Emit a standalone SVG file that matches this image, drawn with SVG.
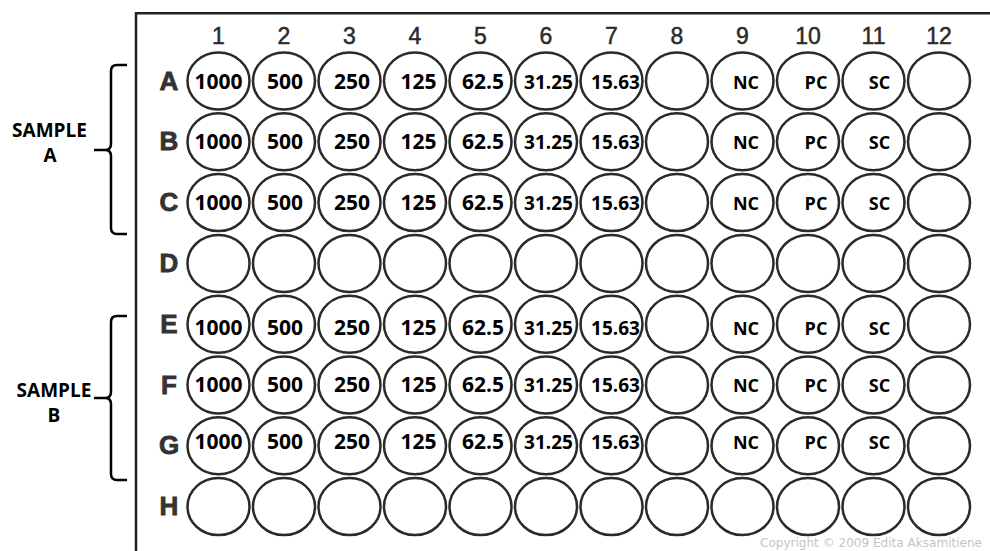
<svg xmlns="http://www.w3.org/2000/svg" xmlns:xlink="http://www.w3.org/1999/xlink" width="990" height="551" viewBox="0 0 990 551">
<style>
.frame{fill:none;stroke:#222;stroke-width:2.5}
.well{fill:#fff;stroke:#2a2a2a;stroke-width:2.5}
.col{font-family:"Liberation Sans",Arial,sans-serif;font-size:23px;fill:#2b2b2b;stroke:#2b2b2b;stroke-width:0.5;text-anchor:middle}
.row{font-family:"Liberation Sans",Arial,sans-serif;font-size:26px;font-weight:bold;fill:#333;stroke:#333;stroke-width:0.8;text-anchor:middle}
.v{font-family:"Open Sans","Noto Sans",sans-serif;font-size:21px;font-weight:bold;fill:#000;text-anchor:middle}
.s{font-family:"Open Sans","Noto Sans",sans-serif;font-size:19px;font-weight:bold;fill:#000;text-anchor:middle}
.c{font-family:"Open Sans","Noto Sans",sans-serif;font-size:18px;font-weight:bold;fill:#000;text-anchor:middle}
.lab{font-family:"Open Sans","Noto Sans",sans-serif;font-size:19px;font-weight:bold;fill:#000;text-anchor:middle}
.br{fill:none;stroke:#000;stroke-width:2.5;stroke-linejoin:round}
.copy{font-family:"DejaVu Sans",Verdana,sans-serif;font-size:12px;fill:#c4c4c4}
</style>
<defs>
<ellipse id="w" class="well" cx="0" cy="0" rx="31" ry="28.5"/>
</defs>
<rect width="990" height="551" fill="#fff"/>
<g id="plate">
<path class="frame" d="M136,551 V13.3 H990"/>
</g>
<g id="column-labels">
<text class="col" x="218.5" y="43.5">1</text>
<text class="col" x="284" y="43.5">2</text>
<text class="col" x="349.5" y="43.5">3</text>
<text class="col" x="415" y="43.5">4</text>
<text class="col" x="480.5" y="43.5">5</text>
<text class="col" x="546" y="43.5">6</text>
<text class="col" x="611.5" y="43.5">7</text>
<text class="col" x="677" y="43.5">8</text>
<text class="col" x="742.5" y="43.5">9</text>
<text class="col" x="808" y="43.5">10</text>
<text class="col" x="873.5" y="43.5">11</text>
<text class="col" x="939" y="43.5">12</text>
</g>
<g id="row-labels">
<text class="row" x="169" y="89.5">A</text>
<text class="row" x="169" y="150.3">B</text>
<text class="row" x="169" y="211.1">C</text>
<text class="row" x="169" y="271.9">D</text>
<text class="row" x="169" y="332.7">E</text>
<text class="row" x="169" y="393.5">F</text>
<text class="row" x="169" y="454.3">G</text>
<text class="row" x="169" y="515.1">H</text>
</g>
<g id="row-A">
<g id="A1"><use href="#w" x="218.5" y="81"/><text class="v" x="218.5" y="89">1000</text></g>
<g id="A2"><use href="#w" x="284" y="81"/><text class="v" x="285" y="89">500</text></g>
<g id="A3"><use href="#w" x="349.5" y="81"/><text class="v" x="352" y="89">250</text></g>
<g id="A4"><use href="#w" x="415" y="81"/><text class="v" x="418.5" y="89">125</text></g>
<g id="A5"><use href="#w" x="480.5" y="81"/><text class="v" x="483" y="89">62.5</text></g>
<g id="A6"><use href="#w" x="546" y="81"/><text class="s" x="548.5" y="88.5">31.25</text></g>
<g id="A7"><use href="#w" x="611.5" y="81"/><text class="s" x="615.5" y="88.5">15.63</text></g>
<g id="A8"><use href="#w" x="677" y="81"/></g>
<g id="A9"><use href="#w" x="742.5" y="81"/><text class="c" x="746" y="89">NC</text></g>
<g id="A10"><use href="#w" x="808" y="81"/><text class="c" x="816" y="89">PC</text></g>
<g id="A11"><use href="#w" x="873.5" y="81"/><text class="c" x="879.5" y="89">SC</text></g>
<g id="A12"><use href="#w" x="939" y="81"/></g>
</g>
<g id="row-B">
<g id="B1"><use href="#w" x="218.5" y="141.8"/><text class="v" x="218.5" y="149">1000</text></g>
<g id="B2"><use href="#w" x="284" y="141.8"/><text class="v" x="285" y="149">500</text></g>
<g id="B3"><use href="#w" x="349.5" y="141.8"/><text class="v" x="352" y="149">250</text></g>
<g id="B4"><use href="#w" x="415" y="141.8"/><text class="v" x="418.5" y="149">125</text></g>
<g id="B5"><use href="#w" x="480.5" y="141.8"/><text class="v" x="483" y="149">62.5</text></g>
<g id="B6"><use href="#w" x="546" y="141.8"/><text class="s" x="548.5" y="148.5">31.25</text></g>
<g id="B7"><use href="#w" x="611.5" y="141.8"/><text class="s" x="615.5" y="148.5">15.63</text></g>
<g id="B8"><use href="#w" x="677" y="141.8"/></g>
<g id="B9"><use href="#w" x="742.5" y="141.8"/><text class="c" x="746" y="149">NC</text></g>
<g id="B10"><use href="#w" x="808" y="141.8"/><text class="c" x="816" y="149">PC</text></g>
<g id="B11"><use href="#w" x="873.5" y="141.8"/><text class="c" x="879.5" y="149">SC</text></g>
<g id="B12"><use href="#w" x="939" y="141.8"/></g>
</g>
<g id="row-C">
<g id="C1"><use href="#w" x="218.5" y="202.6"/><text class="v" x="218.5" y="210">1000</text></g>
<g id="C2"><use href="#w" x="284" y="202.6"/><text class="v" x="285" y="210">500</text></g>
<g id="C3"><use href="#w" x="349.5" y="202.6"/><text class="v" x="352" y="210">250</text></g>
<g id="C4"><use href="#w" x="415" y="202.6"/><text class="v" x="418.5" y="210">125</text></g>
<g id="C5"><use href="#w" x="480.5" y="202.6"/><text class="v" x="483" y="210">62.5</text></g>
<g id="C6"><use href="#w" x="546" y="202.6"/><text class="s" x="548.5" y="209.5">31.25</text></g>
<g id="C7"><use href="#w" x="611.5" y="202.6"/><text class="s" x="615.5" y="209.5">15.63</text></g>
<g id="C8"><use href="#w" x="677" y="202.6"/></g>
<g id="C9"><use href="#w" x="742.5" y="202.6"/><text class="c" x="746" y="210">NC</text></g>
<g id="C10"><use href="#w" x="808" y="202.6"/><text class="c" x="816" y="210">PC</text></g>
<g id="C11"><use href="#w" x="873.5" y="202.6"/><text class="c" x="879.5" y="210">SC</text></g>
<g id="C12"><use href="#w" x="939" y="202.6"/></g>
</g>
<g id="row-D">
<g id="D1"><use href="#w" x="218.5" y="263.4"/></g>
<g id="D2"><use href="#w" x="284" y="263.4"/></g>
<g id="D3"><use href="#w" x="349.5" y="263.4"/></g>
<g id="D4"><use href="#w" x="415" y="263.4"/></g>
<g id="D5"><use href="#w" x="480.5" y="263.4"/></g>
<g id="D6"><use href="#w" x="546" y="263.4"/></g>
<g id="D7"><use href="#w" x="611.5" y="263.4"/></g>
<g id="D8"><use href="#w" x="677" y="263.4"/></g>
<g id="D9"><use href="#w" x="742.5" y="263.4"/></g>
<g id="D10"><use href="#w" x="808" y="263.4"/></g>
<g id="D11"><use href="#w" x="873.5" y="263.4"/></g>
<g id="D12"><use href="#w" x="939" y="263.4"/></g>
</g>
<g id="row-E">
<g id="E1"><use href="#w" x="218.5" y="324.2"/><text class="v" x="218.5" y="335">1000</text></g>
<g id="E2"><use href="#w" x="284" y="324.2"/><text class="v" x="285" y="335">500</text></g>
<g id="E3"><use href="#w" x="349.5" y="324.2"/><text class="v" x="352" y="335">250</text></g>
<g id="E4"><use href="#w" x="415" y="324.2"/><text class="v" x="418.5" y="335">125</text></g>
<g id="E5"><use href="#w" x="480.5" y="324.2"/><text class="v" x="483" y="335">62.5</text></g>
<g id="E6"><use href="#w" x="546" y="324.2"/><text class="s" x="548.5" y="334.5">31.25</text></g>
<g id="E7"><use href="#w" x="611.5" y="324.2"/><text class="s" x="615.5" y="334.5">15.63</text></g>
<g id="E8"><use href="#w" x="677" y="324.2"/></g>
<g id="E9"><use href="#w" x="742.5" y="324.2"/><text class="c" x="746" y="335">NC</text></g>
<g id="E10"><use href="#w" x="808" y="324.2"/><text class="c" x="816" y="335">PC</text></g>
<g id="E11"><use href="#w" x="873.5" y="324.2"/><text class="c" x="879.5" y="335">SC</text></g>
<g id="E12"><use href="#w" x="939" y="324.2"/></g>
</g>
<g id="row-F">
<g id="F1"><use href="#w" x="218.5" y="385"/><text class="v" x="218.5" y="392">1000</text></g>
<g id="F2"><use href="#w" x="284" y="385"/><text class="v" x="285" y="392">500</text></g>
<g id="F3"><use href="#w" x="349.5" y="385"/><text class="v" x="352" y="392">250</text></g>
<g id="F4"><use href="#w" x="415" y="385"/><text class="v" x="418.5" y="392">125</text></g>
<g id="F5"><use href="#w" x="480.5" y="385"/><text class="v" x="483" y="392">62.5</text></g>
<g id="F6"><use href="#w" x="546" y="385"/><text class="s" x="548.5" y="391.5">31.25</text></g>
<g id="F7"><use href="#w" x="611.5" y="385"/><text class="s" x="615.5" y="391.5">15.63</text></g>
<g id="F8"><use href="#w" x="677" y="385"/></g>
<g id="F9"><use href="#w" x="742.5" y="385"/><text class="c" x="746" y="392">NC</text></g>
<g id="F10"><use href="#w" x="808" y="385"/><text class="c" x="816" y="392">PC</text></g>
<g id="F11"><use href="#w" x="873.5" y="385"/><text class="c" x="879.5" y="392">SC</text></g>
<g id="F12"><use href="#w" x="939" y="385"/></g>
</g>
<g id="row-G">
<g id="G1"><use href="#w" x="218.5" y="445.8"/><text class="v" x="218.5" y="449">1000</text></g>
<g id="G2"><use href="#w" x="284" y="445.8"/><text class="v" x="285" y="449">500</text></g>
<g id="G3"><use href="#w" x="349.5" y="445.8"/><text class="v" x="352" y="449">250</text></g>
<g id="G4"><use href="#w" x="415" y="445.8"/><text class="v" x="418.5" y="449">125</text></g>
<g id="G5"><use href="#w" x="480.5" y="445.8"/><text class="v" x="483" y="449">62.5</text></g>
<g id="G6"><use href="#w" x="546" y="445.8"/><text class="s" x="548.5" y="448.5">31.25</text></g>
<g id="G7"><use href="#w" x="611.5" y="445.8"/><text class="s" x="615.5" y="448.5">15.63</text></g>
<g id="G8"><use href="#w" x="677" y="445.8"/></g>
<g id="G9"><use href="#w" x="742.5" y="445.8"/><text class="c" x="746" y="449">NC</text></g>
<g id="G10"><use href="#w" x="808" y="445.8"/><text class="c" x="816" y="449">PC</text></g>
<g id="G11"><use href="#w" x="873.5" y="445.8"/><text class="c" x="879.5" y="449">SC</text></g>
<g id="G12"><use href="#w" x="939" y="445.8"/></g>
</g>
<g id="row-H">
<g id="H1"><use href="#w" x="218.5" y="506.6"/></g>
<g id="H2"><use href="#w" x="284" y="506.6"/></g>
<g id="H3"><use href="#w" x="349.5" y="506.6"/></g>
<g id="H4"><use href="#w" x="415" y="506.6"/></g>
<g id="H5"><use href="#w" x="480.5" y="506.6"/></g>
<g id="H6"><use href="#w" x="546" y="506.6"/></g>
<g id="H7"><use href="#w" x="611.5" y="506.6"/></g>
<g id="H8"><use href="#w" x="677" y="506.6"/></g>
<g id="H9"><use href="#w" x="742.5" y="506.6"/></g>
<g id="H10"><use href="#w" x="808" y="506.6"/></g>
<g id="H11"><use href="#w" x="873.5" y="506.6"/></g>
<g id="H12"><use href="#w" x="939" y="506.6"/></g>
</g>
<g id="sample-A">
<path class="br" d="M127,65 H117 Q111,65 111,71 V144 Q111,150 105,150 H94 M105,150 Q111,150 111,156 V228 Q111,234 117,234 H127"/>
<text class="lab" x="49.5" y="137">SAMPLE</text>
<text class="lab" x="50" y="162">A</text>
</g>
<g id="sample-B">
<path class="br" d="M127,316 H117 Q111,316 111,322 V392 Q111,398 105,398 H94 M105,398 Q111,398 111,404 V474 Q111,480 117,480 H127"/>
<text class="lab" x="54" y="397">SAMPLE</text>
<text class="lab" x="54" y="422">B</text>
</g>
<text class="copy" x="760" y="547" textLength="222" lengthAdjust="spacingAndGlyphs">Copyright © 2009 Edita Aksamitiene</text>
</svg>
